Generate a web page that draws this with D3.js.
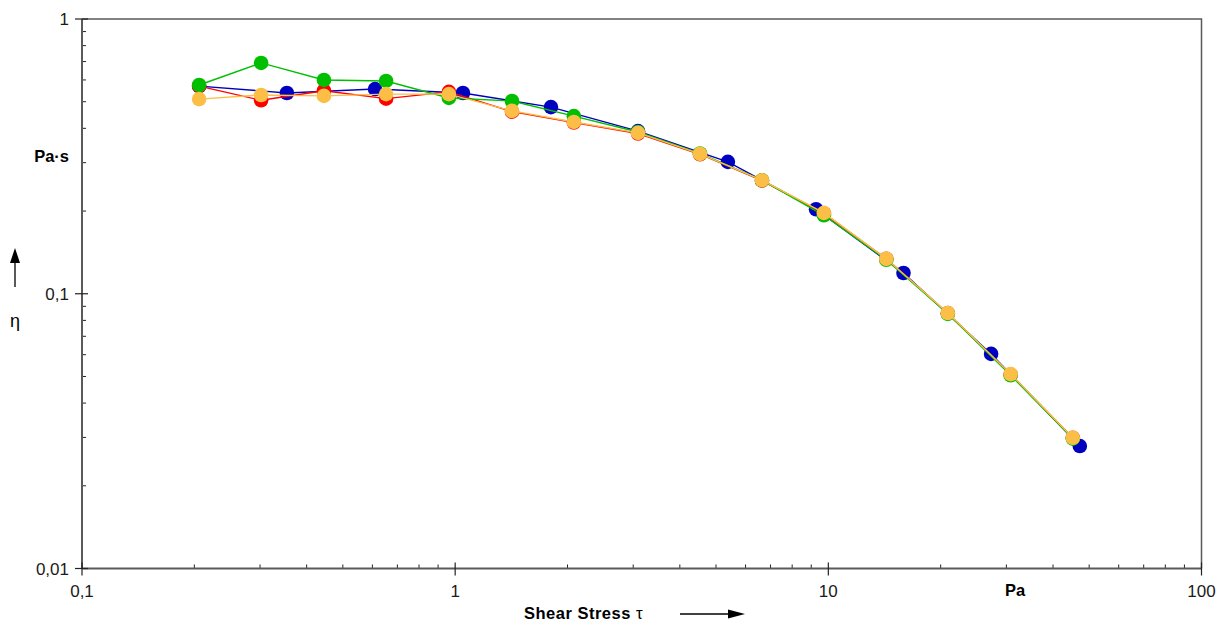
<!DOCTYPE html>
<html>
<head>
<meta charset="utf-8">
<script src="https://cdn.jsdelivr.net/npm/d3@7"></script>
<style>
  html, body { margin: 0; padding: 0; background: #fff; }
  svg { display: block; font-family: "Liberation Sans", Arial, sans-serif; }
</style>
</head>
<body>
<svg id="chart" width="1217" height="622"></svg>
<script>
// Shear stress τ (Pa) and viscosity η (Pa·s) for four measurement runs
const stressBlue = [0.206, 0.354, 0.610, 1.049, 1.806, 3.09, 5.38, 9.27, 15.9, 27.3, 47.2];
const etaBlue    = [0.570, 0.538, 0.556, 0.538, 0.478, 0.391, 0.302, 0.203, 0.119, 0.0604, 0.0279];

const stressRun  = [0.206, 0.302, 0.445, 0.653, 0.962, 1.42, 2.08, 3.09, 4.53, 6.64, 9.73, 14.3, 20.9, 30.8, 45.2];
const etaRed     = [0.570, 0.506, 0.548, 0.513, 0.543, 0.460, 0.420, 0.383, 0.322, 0.258, 0.196, 0.134, 0.0850, 0.0508, 0.0299];
const etaGreen   = [0.575, 0.692, 0.600, 0.595, 0.516, 0.503, 0.443, 0.388, 0.324, 0.259, 0.193, 0.133, 0.0845, 0.0505, 0.0297];
const etaOrange  = [0.511, 0.529, 0.525, 0.533, 0.533, 0.463, 0.422, 0.385, 0.323, 0.259, 0.197, 0.134, 0.0851, 0.0510, 0.0299];

const xTickValues = [0.1, 1, 10, 100];
const xTickLabels = ["0,1", "1", "10", "100"];
const yTickValues = [0.01, 0.1, 1];
const yTickLabels = ["0,01", "0,1", "1"];

const series = [
  { x: stressBlue, y: etaBlue,    color: "#0000c0" },
  { x: stressRun,  y: etaRed,     color: "#ff0000" },
  { x: stressRun,  y: etaGreen,   color: "#00bf00" },
  { x: stressRun,  y: etaOrange,  color: "#fbbf47" }
];

const svg = d3.select("#chart");
const plot = { left: 82, right: 1201.5, top: 19, bottom: 568.5 };

const x = d3.scaleLog().domain([0.1, 100]).range([plot.left, plot.right]);
const y = d3.scaleLog().domain([0.01, 1]).range([plot.bottom, plot.top]);

const axisColor = "#5a5a5a";

// frame: top and right borders
svg.append("path")
  .attr("d", `M${plot.left},${plot.top}H${plot.right}V${plot.bottom}`)
  .attr("fill", "none").attr("stroke", axisColor).attr("stroke-width", 1.5);

// minor ticks (inside the plot)
const minorX = [];
[0.1, 1, 10].forEach(d => { for (let k = 2; k <= 9; k++) minorX.push(d * k); });
const minorY = [];
[0.01, 0.1].forEach(d => { for (let k = 2; k <= 9; k++) minorY.push(d * k); });

svg.append("g").selectAll("line").data(minorX).join("line")
  .attr("x1", d => x(d)).attr("x2", d => x(d))
  .attr("y1", plot.bottom).attr("y2", plot.bottom - 4)
  .attr("stroke", "#222").attr("stroke-width", 1);
svg.append("g").selectAll("line").data(minorY).join("line")
  .attr("y1", d => y(d)).attr("y2", d => y(d))
  .attr("x1", plot.left).attr("x2", plot.left + 4)
  .attr("stroke", "#222").attr("stroke-width", 1);

// axis lines
svg.append("line").attr("x1", plot.left).attr("x2", plot.right)
  .attr("y1", plot.bottom).attr("y2", plot.bottom)
  .attr("stroke", axisColor).attr("stroke-width", 2);
svg.append("line").attr("x1", plot.left).attr("x2", plot.left)
  .attr("y1", plot.top).attr("y2", plot.bottom)
  .attr("stroke", axisColor).attr("stroke-width", 2);

// major ticks crossing the axes
svg.append("g").selectAll("line").data(xTickValues).join("line")
  .attr("x1", d => x(d)).attr("x2", d => x(d))
  .attr("y1", plot.bottom - 6).attr("y2", plot.bottom + 7)
  .attr("stroke", "#222").attr("stroke-width", 1.2);
svg.append("g").selectAll("line").data(yTickValues).join("line")
  .attr("y1", d => y(d)).attr("y2", d => y(d))
  .attr("x1", plot.left - 7).attr("x2", plot.left + 6)
  .attr("stroke", "#222").attr("stroke-width", 1.2);

// tick labels
svg.append("g").selectAll("text").data(xTickValues).join("text")
  .attr("x", d => x(d)).attr("y", 597)
  .attr("text-anchor", "middle").attr("font-size", 17).attr("fill", "#1a1a1a")
  .text((d, i) => xTickLabels[i]);
svg.append("g").selectAll("text").data(yTickValues).join("text")
  .attr("x", 69).attr("y", d => y(d) + 6)
  .attr("text-anchor", "end").attr("font-size", 17).attr("fill", "#1a1a1a")
  .text((d, i) => yTickLabels[i]);

// axis titles and units
svg.append("text").attr("x", 69).attr("y", 162).attr("text-anchor", "end")
  .attr("font-size", 16.5).attr("font-weight", "bold").text("Pa·s");
svg.append("text").attr("x", 1015).attr("y", 596).attr("text-anchor", "middle")
  .attr("font-size", 16.5).attr("font-weight", "bold").text("Pa");
const title = svg.append("text").attr("x", 524).attr("y", 619)
  .attr("font-size", 16.5).attr("font-weight", "bold").attr("letter-spacing", 0.5);
title.append("tspan").text("Shear Stress ");
title.append("tspan").attr("font-weight", "normal").attr("font-size", 17).text("τ");
svg.append("text").attr("x", 15).attr("y", 327).attr("text-anchor", "middle")
  .attr("font-size", 18).text("η");

// arrows
svg.append("line").attr("x1", 15).attr("x2", 15).attr("y1", 287).attr("y2", 260)
  .attr("stroke", "#000").attr("stroke-width", 1.3);
svg.append("path").attr("d", "M15,248L10,263L20,263Z").attr("fill", "#000");
svg.append("line").attr("x1", 680).attr("x2", 732).attr("y1", 614).attr("y2", 614)
  .attr("stroke", "#000").attr("stroke-width", 1.3);
svg.append("path").attr("d", "M745,614L728,609.5L728,618.5Z").attr("fill", "#000");

// data series: line then markers
const line = d3.line().x(d => x(d[0])).y(d => y(d[1]));
series.forEach(s => {
  const pts = s.x.map((v, i) => [v, s.y[i]]);
  const g = svg.append("g");
  g.append("path").attr("d", line(pts)).attr("fill", "none")
    .attr("stroke", s.color).attr("stroke-width", 1.4);
  g.selectAll("circle").data(pts).join("circle")
    .attr("cx", d => x(d[0])).attr("cy", d => y(d[1])).attr("r", 7.3)
    .attr("fill", s.color);
});
</script>
</body>
</html>
